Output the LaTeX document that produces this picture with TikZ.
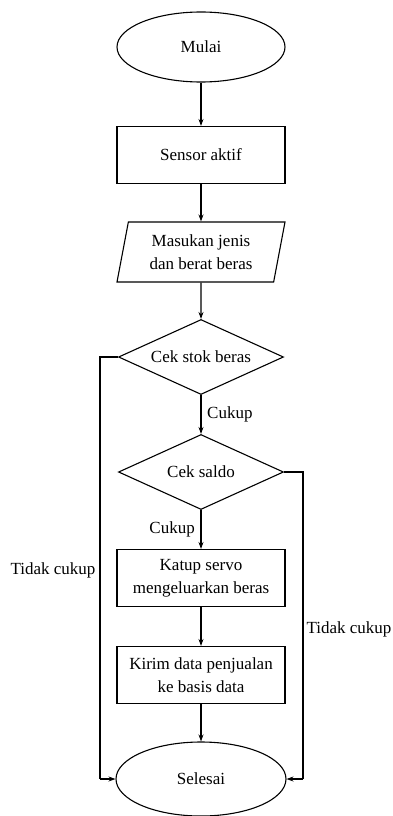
\documentclass[tikz,border=0pt]{standalone}
\usepackage{fontspec}
\setmainfont{Liberation Serif}
\usetikzlibrary{arrows.meta,positioning,shapes.geometric}

\tikzset{
    terminal/.style = {draw, ellipse, line width=1.1pt, minimum width=168pt, minimum height=70pt, inner sep=0pt},
    proses/.style = {draw, rectangle, line width=1.1pt, minimum width=168pt, minimum height=57pt, align=center, inner sep=0pt},
    masukan/.style = {draw, trapezium, trapezium left angle=72, trapezium right angle=108, trapezium stretches body, line width=1.1pt, minimum width=168pt, minimum height=60pt, align=center, inner sep=0pt},
    keputusan/.style = {draw, diamond, aspect=2.2, line width=1.1pt, minimum width=165pt, minimum height=75pt, inner sep=0pt},
    panah/.style = {-{Stealth[length=7pt,width=5pt]}, line width=1.1pt},
    garis/.style = {line width=1.1pt}
}

\begin{document}
\begin{tikzpicture}[x=1pt, y=-1pt]
    \fontsize{17}{23}\selectfont
        \useasboundingbox (0,0) rectangle (392,816);
        \node [terminal] (mulai) at (201,47) {Mulai};
        \node [proses] (sensor) at (201,155) {Sensor aktif};
        \node [masukan] (input) at (201,252) {Masukan jenis\\dan berat beras};
        \node [keputusan] (stok) at (201,357) {Cek stok beras};
        \node [keputusan] (saldo) at (201,472) {Cek saldo};
        \node [proses] (servo) at (201,578) {Katup servo\\mengeluarkan beras};
        \node [proses] (kirim) at (201,675) {Kirim data penjualan\\ke basis data};
        \node [terminal, minimum width=170pt, minimum height=74pt] (selesai) at (201,779) {Selesai};
        \coordinate (jalurkiri) at (100,0);
        \coordinate (jalurkanan) at (303,0);
    % alur utama
        \draw [panah] (mulai) -- (sensor);
        \draw [panah] (sensor) -- (input);
        \draw [panah] (input) -- (stok);
        \draw [panah] (stok) -- node [right=0pt] (cukupa) {Cukup} (saldo);
        \draw [panah] (saldo) -- node [left=0pt] (cukupb) {Cukup} (servo);
        \draw [panah] (servo) -- (kirim);
        \draw [panah] (kirim) -- (selesai);
    % cabang tidak cukup
        \draw [garis] (stok.west) -| (jalurkiri |- selesai.west);
        \draw [panah] (jalurkiri |- selesai.west) -- (selesai.west);
        \draw [garis] (saldo.east) -| (jalurkanan |- selesai.east);
        \draw [panah] (jalurkanan |- selesai.east) -- (selesai.east);
        \node (tidakkiri) at (53,570) {Tidak cukup};
        \node (tidakkanan) at (349,629) {Tidak cukup};
\end{tikzpicture}
\end{document}
